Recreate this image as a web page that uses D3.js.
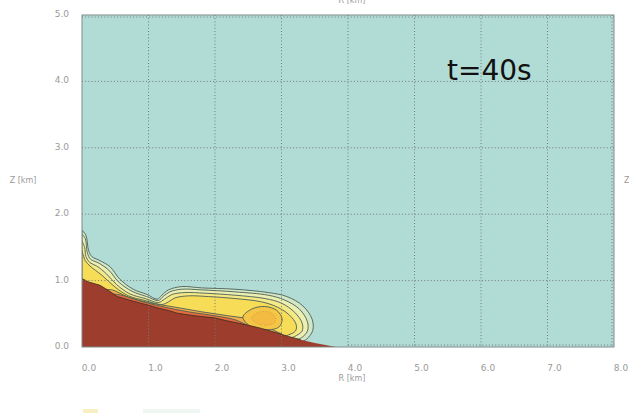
<!DOCTYPE html>
<html lang="en">
<head>
    <meta charset="UTF-8">
    <title>t=40s section</title>
    <script src="https://cdn.jsdelivr.net/npm/d3@7/dist/d3.min.js"></script>
    <style>
        body{ margin:0; background:#fff; }
        text{ font-family:"DejaVu Sans", sans-serif; }
    </style>
</head>
<body>
<script>
    // axis ticks (km)
    const xTicks = [0, 1, 2, 3, 4, 5, 6, 7, 8];
    const yTicks = [0, 1, 2, 3, 4, 5];

    // ground profile [R, Z]
    const terrain = [[0,1.03],[0.1,0.98],[0.27,0.93],[0.4,0.85],[0.53,0.76],[0.7,0.71],[0.88,0.66],
        [1.0,0.63],[1.13,0.59],[1.3,0.55],[1.43,0.51],[1.7,0.47],[1.98,0.44],[2.2,0.39],[2.49,0.33],
        [2.7,0.28],[2.94,0.21],[3.1,0.16],[3.29,0.11],[3.5,0.06],[3.82,0]];

    // contour envelopes, outer to inner
    const level1 = [[0,1.76],[0.06,1.68],[0.1,1.45],[0.15,1.36],[0.25,1.31],[0.42,1.21],[0.57,1.02],
        [0.77,0.87],[0.98,0.79],[1.13,0.72],[1.2,0.78],[1.3,0.86],[1.5,0.91],[1.8,0.89],[2.3,0.87],
        [2.8,0.82],[3.08,0.76],[3.32,0.62],[3.46,0.42],[3.47,0.25],[3.38,0.12],[3.3,0.08]];
    const level2 = [[0,1.7],[0.05,1.63],[0.08,1.42],[0.13,1.32],[0.24,1.27],[0.4,1.16],[0.55,0.98],
        [0.75,0.84],[0.97,0.76],[1.15,0.7],[1.22,0.76],[1.32,0.83],[1.5,0.87],[1.8,0.86],[2.3,0.83],
        [2.8,0.78],[3.04,0.71],[3.27,0.57],[3.39,0.38],[3.39,0.24],[3.3,0.14],[3.2,0.1]];
    const level3 = [[0,1.6],[0.04,1.5],[0.06,1.36],[0.12,1.27],[0.22,1.22],[0.37,1.1],[0.52,0.94],
        [0.72,0.8],[0.95,0.73],[1.15,0.67],[1.24,0.72],[1.35,0.79],[1.55,0.82],[1.85,0.81],[2.3,0.78],
        [2.75,0.73],[3.0,0.66],[3.2,0.52],[3.31,0.36],[3.31,0.24],[3.2,0.16],[3.1,0.12]];
    const level4 = [[0,1.45],[0.05,1.3],[0.12,1.22],[0.3,1.08],[0.5,0.9],[0.7,0.77],[0.95,0.7],
        [1.2,0.64],[1.3,0.68],[1.4,0.74],[1.6,0.77],[1.9,0.76],[2.3,0.73],[2.7,0.68],[2.94,0.6],
        [3.12,0.48],[3.22,0.34],[3.21,0.24],[3.1,0.18],[3.0,0.15]];
    const rotorOuter = [[2.42,0.45],[2.55,0.57],[2.75,0.61],[2.93,0.55],[3.01,0.42],[2.96,0.3],
        [2.8,0.26],[2.55,0.3]];
    const rotorInner = [[2.55,0.44],[2.65,0.52],[2.8,0.53],[2.9,0.46],[2.9,0.37],[2.78,0.33],[2.62,0.36]];
    const bandOrange = [[0.3,0.86],[0.45,0.86],[0.7,0.75],[1.0,0.67],[1.4,0.6],[1.8,0.53],[2.2,0.47],
        [2.6,0.42],[2.85,0.4],[2.9,0.36],[2.8,0.31],[3.0,0.2]];
    const bandRed = [[0.45,0.8],[0.6,0.78],[0.85,0.7],[1.2,0.61],[1.6,0.53],[2.0,0.47],[2.3,0.41],[2.5,0.32]];

    const width = 629, height = 413;
    const x = d3.scaleLinear().domain([0, 8]).range([82, 614]);
    const y = d3.scaleLinear().domain([0, 5]).range([347, 15]);

    const svg = d3.select("body").append("svg")
        .attr("width", width).attr("height", height);

    svg.append("clipPath").attr("id", "plot")
        .append("rect").attr("x", x(0)).attr("y", y(5))
        .attr("width", x(8) - x(0)).attr("height", y(0) - y(5));

    const plot = svg.append("g").attr("clip-path", "url(#plot)");

    plot.append("rect")
        .attr("x", x(0)).attr("y", y(5))
        .attr("width", x(8) - x(0)).attr("height", y(0) - y(5))
        .attr("fill", "#b1dcd5");

    const curve = d3.line().x(d => x(d[0])).y(d => y(d[1])).curve(d3.curveCatmullRom);
    const closed = d3.line().x(d => x(d[0])).y(d => y(d[1])).curve(d3.curveCatmullRomClosed);

    // top curve, then straight down under the ground
    function band(pts) {
        const a = pts[0], b = pts[pts.length - 1];
        return curve(pts) + `L${x(b[0])},${y(-0.3)}L${x(a[0])},${y(-0.3)}Z`;
    }

    const layers = [
        {pts: level1, fill: "#d3e7c6"},
        {pts: level2, fill: "#ecefb0"},
        {pts: level3, fill: "#f5e986"},
        {pts: level4, fill: "#f7dc58"},
        {pts: bandOrange, fill: "#f2ad4a"},
        {pts: bandRed, fill: "#e56d3d"}
    ];

    plot.selectAll("path.lev")
        .data(layers)
        .enter().append("path")
        .attr("class", "lev")
        .attr("d", d => band(d.pts))
        .attr("fill", d => d.fill)
        .attr("stroke", "#4b5f56")
        .attr("stroke-width", 0.9);

    plot.append("path").attr("d", closed(rotorOuter))
        .attr("fill", "#f5c646").attr("stroke", "#4b5f56").attr("stroke-width", 0.9);
    plot.append("path").attr("d", closed(rotorInner))
        .attr("fill", "#f4bb42").attr("stroke", "#b08a40").attr("stroke-width", 0.6)
        .attr("stroke-dasharray", "1,1.5");

    // ground
    const ground = d3.line().x(d => x(d[0])).y(d => y(d[1]));
    plot.append("path")
        .attr("d", ground(terrain) + `L${x(0)},${y(0)}Z`)
        .attr("fill", "#9c3d2e");
    plot.append("path")
        .attr("d", ground(terrain.slice(0, 19)))
        .attr("fill", "none").attr("stroke", "#3d2a1e").attr("stroke-width", 0.8);

    // dotted grid
    const grid = svg.append("g")
        .attr("stroke", "#737b7a").attr("stroke-width", 1).attr("stroke-dasharray", "1,2.2");
    grid.selectAll("line.gx").data(xTicks.slice(1, -1)).enter().append("line")
        .attr("x1", d => x(d)).attr("x2", d => x(d)).attr("y1", y(5)).attr("y2", y(0));
    grid.selectAll("line.gy").data(yTicks.slice(1, -1)).enter().append("line")
        .attr("x1", x(0)).attr("x2", x(8)).attr("y1", d => y(d)).attr("y2", d => y(d));
    grid.append("line").attr("x1", x(0)).attr("x2", x(8)).attr("y1", y(5) + 2).attr("y2", y(5) + 2);
    grid.append("line").attr("x1", x(8) - 2).attr("x2", x(8) - 2).attr("y1", y(5)).attr("y2", y(0));
    grid.append("line").attr("x1", x(4)).attr("x2", x(8)).attr("y1", y(0) - 2).attr("y2", y(0) - 2);

    svg.append("rect")
        .attr("x", x(0)).attr("y", y(5))
        .attr("width", x(8) - x(0)).attr("height", y(0) - y(5))
        .attr("fill", "none").attr("stroke", "#7f8c8a").attr("stroke-width", 1);

    // tick labels
    svg.selectAll("text.xt").data(xTicks).enter().append("text")
        .attr("x", d => x(d) + 7).attr("y", 371)
        .attr("text-anchor", "middle")
        .attr("font-size", 9).attr("fill", "#9a9a9a")
        .text(d => d.toFixed(1));
    svg.selectAll("text.yt").data(yTicks).enter().append("text")
        .attr("x", 69).attr("y", d => y(d) + 2)
        .attr("text-anchor", "end")
        .attr("font-size", 9).attr("fill", "#9a9a9a")
        .text(d => d.toFixed(1));

    // axis titles (the top and right ones are cut by the edge, as in the source)
    svg.append("text").attr("x", 352).attr("y", 381).attr("text-anchor", "middle")
        .attr("font-size", 8).attr("fill", "#9a9a9a").text("R [km]");
    svg.append("text").attr("x", 352).attr("y", 3).attr("text-anchor", "middle")
        .attr("font-size", 8).attr("fill", "#9a9a9a").text("R [km]");
    svg.append("text").attr("x", 23).attr("y", 183).attr("text-anchor", "middle")
        .attr("font-size", 8).attr("fill", "#9a9a9a").text("Z [km]");
    svg.append("text").attr("x", 624).attr("y", 183)
        .attr("font-size", 8).attr("fill", "#9a9a9a").text("Z [km]");

    // time stamp
    svg.append("text").attr("x", 447).attr("y", 80)
        .attr("font-size", 28).attr("fill", "#111").text("t=40s");

    // edge of the colour bar below the frame
    svg.append("rect").attr("x", 83).attr("y", 409).attr("width", 15).attr("height", 4)
        .attr("fill", "#f7f0c4");
    svg.append("rect").attr("x", 143).attr("y", 409).attr("width", 57).attr("height", 4)
        .attr("fill", "#eef7f2");
</script>
</body>
</html>
